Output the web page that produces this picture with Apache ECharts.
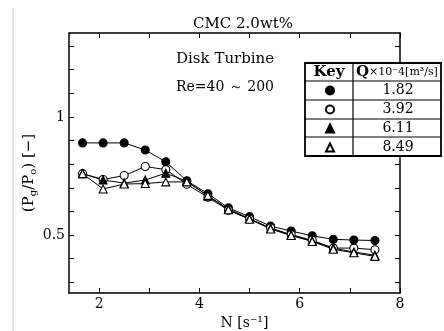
<!DOCTYPE html>
<html>
<head>
<meta charset="utf-8">
<script src="https://cdn.jsdelivr.net/npm/echarts@6/dist/echarts.min.js"></script>
<style>
  html, body { margin: 0; padding: 0; background: #fff; }
  #chart { width: 444px; height: 331px; }
</style>
</head>
<body>
<div id="chart"></div>
<script>
// N [1/s] where each run was measured
const nValues = [1.67, 2.08, 2.5, 2.92, 3.33, 3.75, 4.17, 4.58, 5.0, 5.42, 5.83, 6.25, 6.67, 7.08, 7.5];
// Pg/Po for each gas flow rate Q
const q182 = [0.89, 0.89, 0.89, 0.86, 0.81, 0.73, 0.675, 0.615, 0.578, 0.538, 0.517, 0.497, 0.482, 0.479, 0.477];
const q392 = [0.76, 0.735, 0.752, 0.79, 0.777, 0.715, 0.66, 0.605, 0.568, 0.53, 0.502, 0.478, 0.445, 0.445, 0.438];
const q611 = [0.76, 0.733, 0.72, 0.733, 0.762, 0.728, 0.665, 0.61, 0.57, 0.528, 0.5, 0.475, 0.445, 0.428, 0.415];
const q849 = [0.76, 0.695, 0.716, 0.718, 0.725, 0.725, 0.668, 0.607, 0.567, 0.526, 0.498, 0.473, 0.44, 0.425, 0.41];
const qLabels = ['1.82', '3.92', '6.11', '8.49'];

const xTicks = [2, 3, 4, 5, 6, 7, 8];
const xLabels = [2, 4, 6, 8];
const yTicks = [0.3, 0.4, 0.5, 0.6, 0.7, 0.8, 0.9, 1.0, 1.1, 1.2, 1.3];
const yLabels = [0.5, 1];

const serif = "'DejaVu Serif', 'Liberation Serif', serif";

const chart = echarts.init(document.getElementById('chart'));

const pairs = ys => nValues.map((n, i) => [n, ys[i]]);

const mkSeries = (name, ys, symbol, filled, size) => ({
  name: name,
  type: 'line',
  data: pairs(ys),
  symbol: symbol,
  symbolSize: size,
  lineStyle: { color: '#000', width: 1 },
  itemStyle: {
    color: filled ? '#000' : '#fff',
    borderColor: '#000',
    borderWidth: 1.1
  },
  z: 3
});

const axisBase = {
  axisLine: { lineStyle: { color: '#000', width: 1.5 } },
  splitLine: { show: false }
};

const option = {
  animation: false,
  backgroundColor: '#fff',
  textStyle: { fontFamily: serif },
  grid: { left: 69, right: 44, top: 33, bottom: 38, containLabel: false, outerBoundsMode: 'none' },
  xAxis: [
    Object.assign({
      type: 'value',
      min: 1.4,
      max: 8,
      position: 'bottom',
      axisTick: { inside: true, length: 5, customValues: xTicks, lineStyle: { color: '#000' } },
      axisLabel: { customValues: xLabels, color: '#000', fontSize: 14, fontFamily: serif, margin: 4 },
      name: 'N [s⁻¹]',
      nameLocation: 'middle',
      nameGap: 21,
      nameTextStyle: { color: '#000', fontSize: 14, fontFamily: serif, padding: [0, 0, 0, 20] }
    }, axisBase),
    Object.assign({
      type: 'value',
      min: 1.4,
      max: 8,
      position: 'top',
      axisTick: { inside: true, length: 5, customValues: xTicks, lineStyle: { color: '#000' } },
      axisLabel: { show: false }
    }, axisBase)
  ],
  yAxis: [
    Object.assign({
      type: 'value',
      min: 0.255,
      max: 1.355,
      position: 'left',
      axisTick: { inside: true, length: 5, customValues: yTicks, lineStyle: { color: '#000' } },
      axisLabel: { customValues: yLabels, color: '#000', fontSize: 14, fontFamily: serif, margin: 4 }
    }, axisBase),
    Object.assign({
      type: 'value',
      min: 0.255,
      max: 1.355,
      position: 'right',
      axisTick: { inside: true, length: 5, customValues: yTicks, lineStyle: { color: '#000' } },
      axisLabel: { show: false }
    }, axisBase)
  ],
  legend: {
    orient: 'vertical',
    left: 325,
    top: 81,
    padding: 0,
    itemGap: 0,
    itemWidth: 8,
    itemHeight: 8,
    z: 200,
    selectedMode: false,
    data: [
      { name: qLabels[0], icon: 'circle' },
      { name: qLabels[1], icon: 'circle' },
      { name: qLabels[2], icon: 'triangle' },
      { name: qLabels[3], icon: 'triangle' }
    ],
    formatter: name => '{v|' + name + '}',
    textStyle: {
      rich: {
        v: { width: 118, height: 19, lineHeight: 19, align: 'center', fontSize: 14, fontFamily: serif, color: '#000' }
      }
    }
  },
  graphic: [
    // faint scan edge on the left
    { type: 'line', shape: { x1: 13, y1: 8, x2: 13, y2: 331 }, style: { stroke: '#c8c8c8', lineWidth: 1 } },
    { type: 'text', x: 243, y: 24, style: { text: 'CMC 2.0wt%', font: '15px ' + serif, fill: '#000', align: 'center', verticalAlign: 'middle' } },
    { type: 'text', x: 176, y: 59, style: { text: 'Disk Turbine', font: '15px ' + serif, fill: '#000', align: 'left', verticalAlign: 'middle' } },
    { type: 'text', x: 176, y: 87, style: { text: 'Re=40 ～ 200', font: '14px ' + serif, fill: '#000', align: 'left', verticalAlign: 'middle' } },
    {
      type: 'text', x: 29, y: 173, rotation: Math.PI / 2,
      style: {
        text: '(P{s|g}/P{s|o}) [−]',
        fill: '#000', align: 'center', verticalAlign: 'middle',
        font: '15px ' + serif,
        rich: { s: { fontSize: 10, fontFamily: serif, padding: [8, 0, 0, 0] } }
      }
    },
    // key table
    { type: 'rect', z: 100, shape: { x: 305, y: 63, width: 136, height: 93 }, style: { fill: '#fff', stroke: '#000', lineWidth: 1.8 } },
    { type: 'line', z: 101, shape: { x1: 353, y1: 63, x2: 353, y2: 156 }, style: { stroke: '#000', lineWidth: 1.2 } },
    { type: 'line', z: 101, shape: { x1: 305, y1: 81, x2: 441, y2: 81 }, style: { stroke: '#000', lineWidth: 1.2 } },
    { type: 'line', z: 101, shape: { x1: 305, y1: 100, x2: 441, y2: 100 }, style: { stroke: '#000', lineWidth: 1 } },
    { type: 'line', z: 101, shape: { x1: 305, y1: 119, x2: 441, y2: 119 }, style: { stroke: '#000', lineWidth: 1 } },
    { type: 'line', z: 101, shape: { x1: 305, y1: 137, x2: 441, y2: 137 }, style: { stroke: '#000', lineWidth: 1 } },
    { type: 'text', z: 101, x: 329, y: 72, style: { text: 'Key', font: 'bold 15px ' + serif, fill: '#000', align: 'center', verticalAlign: 'middle' } },
    {
      type: 'text', z: 101, x: 356, y: 72,
      style: {
        text: '{q|Q}{t|×10⁻4[m³/s]}',
        align: 'left', verticalAlign: 'middle', fill: '#000',
        rich: {
          q: { font: 'bold 15px ' + serif, fill: '#000' },
          t: { font: '11px ' + serif, fill: '#000' }
        }
      }
    }
  ],
  series: [
    mkSeries(qLabels[0], q182, 'circle', true, 8),
    mkSeries(qLabels[1], q392, 'circle', false, 8),
    mkSeries(qLabels[2], q611, 'triangle', true, 8),
    mkSeries(qLabels[3], q849, 'triangle', false, 8)
  ]
};

chart.setOption(option);
</script>
</body>
</html>
